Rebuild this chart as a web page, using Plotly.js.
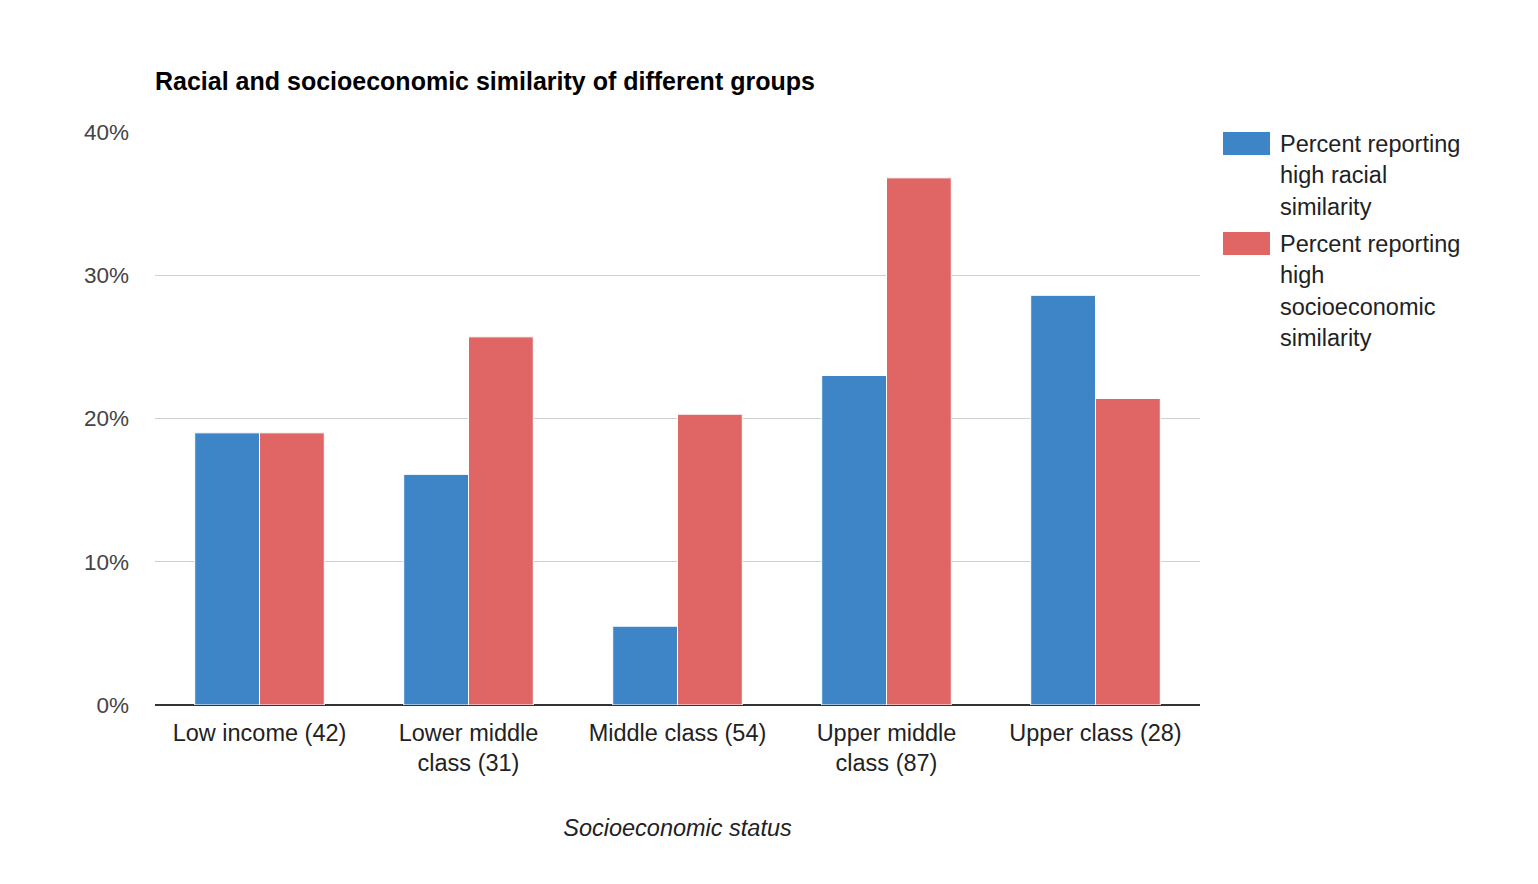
<!DOCTYPE html>
<html>
<head>
<meta charset="utf-8">
<script src="https://cdn.plot.ly/plotly-3.0.1.min.js"></script>
<style>html,body{margin:0;padding:0;background:#fff;}#chart{width:1538px;height:884px;}</style>
</head>
<body>
<div id="chart"></div>
<script>
const categories = ["Low income (42)", "Lower middle<br>class (31)", "Middle class (54)", "Upper middle<br>class (87)", "Upper class (28)"];
const racialSimilarity = [19.0, 16.1, 5.5, 23.0, 28.6];
const socioeconomicSimilarity = [19.0, 25.7, 20.3, 36.8, 21.4];
const seriesNames = ["Percent reporting high racial similarity", "Percent reporting high socioeconomic similarity"];
const legendLines = [["Percent reporting", "high racial", "similarity"], ["Percent reporting", "high", "socioeconomic", "similarity"]];
const yTicks = [0, 10, 20, 30, 40];

const W = 1538, H = 884;
const L = 155, R = 1200, T = 132, B = 705;
const px = x => (x - L) / (R - L);
const py = y => (B - y) / (B - T);

const colors = ["#3d85c6", "#e06666"];
const font = "Liberation Sans, Arial, sans-serif";

const traces = [
  {type: "bar", x: categories, y: racialSimilarity, name: seriesNames[0],
   marker: {color: colors[0], line: {color: "#ffffff", width: 1}}, showlegend: false, hoverinfo: "skip"},
  {type: "bar", x: categories, y: socioeconomicSimilarity, name: seriesNames[1],
   marker: {color: colors[1], line: {color: "#ffffff", width: 1}}, showlegend: false, hoverinfo: "skip"}
];

const shapes = [];
const annotations = [];
const swatchTops = [132, 232];
const lineStarts = [144, 244];
for (let s = 0; s < 2; s++) {
  shapes.push({type: "rect", xref: "paper", yref: "paper",
    x0: px(1223), x1: px(1270), y0: py(swatchTops[s]), y1: py(swatchTops[s] + 23),
    fillcolor: colors[s], line: {width: 0}});
  legendLines[s].forEach((t, i) => {
    annotations.push({xref: "paper", yref: "paper", x: px(1278), y: py(lineStarts[s] + i * 31.3),
      xanchor: "left", yanchor: "middle", text: t, showarrow: false,
      font: {family: font, size: 23.5, color: "#222"}});
  });
}

const layout = {
  width: W, height: H,
  margin: {l: L, r: W - R, t: T, b: H - B, pad: 0},
  paper_bgcolor: "#fff", plot_bgcolor: "#fff",
  font: {family: font, size: 23.5, color: "#444"},
  title: {text: "<b>Racial and socioeconomic similarity of different groups</b>",
    x: 0, xref: "paper", xanchor: "left", y: 1 - 81 / H, yref: "container", yanchor: "middle",
    font: {family: font, size: 25, color: "#000"}},
  barmode: "group", bargap: 0.38, bargroupgap: 0,
  xaxis: {type: "category", tickfont: {family: font, size: 23.5, color: "#222"},
    ticks: "", showgrid: false, showline: false, zeroline: false,
    ticklabelstandoff: 11,
    title: {text: "<i>Socioeconomic status</i>", font: {family: font, size: 23.5, color: "#222"}, standoff: 44}},
  yaxis: {range: [0, 40], tickvals: yTicks, ticktext: yTicks.map(v => v + "%"),
    tickfont: {family: font, size: 22.5, color: "#444"}, ticks: "",
    showgrid: true, gridcolor: "#d0d0d0", gridwidth: 1,
    zeroline: true, zerolinecolor: "#333333", zerolinewidth: 1.5,
    showline: false, ticklabelstandoff: 25},
  shapes: shapes, annotations: annotations
};

Plotly.newPlot("chart", traces, layout, {displayModeBar: false, staticPlot: true});
</script>
</body>
</html>
